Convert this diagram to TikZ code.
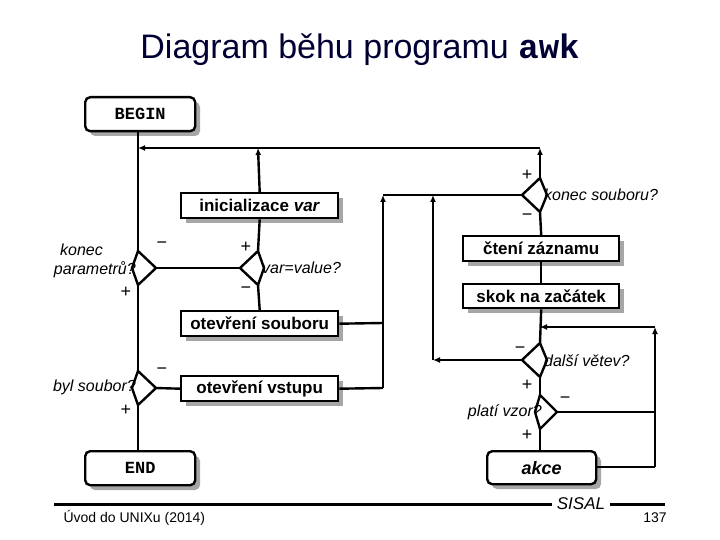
\documentclass[tikz,border=0pt]{standalone}
\usepackage{fontspec}
\setmainfont{Liberation Sans}
\setmonofont{Liberation Mono}
\usetikzlibrary{arrows.meta}
\tikzset{
 x=1pt,y=-1pt,
 ln/.style={line width=2.4pt},
 arr/.style={ln,-{Latex[length=7pt,width=6pt]}},
 shad/.style={fill=gray!70},
 lbl/.style={font=\fontsize{16}{16}\selectfont\itshape,inner sep=0pt},
 sg/.style={font=\fontsize{18}{18}\selectfont,inner sep=0pt},
}
% kite: name, x, y, left half, right half
\newcommand{\kite}[5]{%
 \coordinate (#1t) at (#2,#3-17);
 \coordinate (#1b) at (#2,#3+17);
 \coordinate (#1l) at (#2-#4,#3);
 \coordinate (#1r) at (#2+#5,#3);
 \draw[ln] (#1t) -- (#1r) -- (#1b) -- (#1l) -- cycle;}
\newcommand{\pbx}[6]{% name x1 y1 x2 y2 text
 \fill[shad] (#2+6,#3+6) rectangle (#4+6,#5+6);
 \node[draw,line width=2.4pt,fill=white,inner sep=0pt,minimum width=#4pt-#2pt,minimum height=#5pt-#3pt,anchor=north west,font=\fontsize{17}{17}\selectfont\bfseries] (#1) at (#2,#3) {#6};}
\newcommand{\rbx}[6]{%
 \fill[shad,rounded corners=5pt] (#2+6,#3+6) rectangle (#4+6,#5+6);
 \node[draw,line width=2.4pt,fill=white,rounded corners=5pt,inner sep=0pt,minimum width=#4pt-#2pt,minimum height=#5pt-#3pt,anchor=north west] (#1) at (#2,#3) {#6};}
\begin{document}
\begin{tikzpicture}
\useasboundingbox (0,0) rectangle (720,540);
\node[font=\fontsize{34}{34}\selectfont,text=black!80!blue] (title) at (360,50) {Diagram běhu programu \texttt{\bfseries awk}};
% boxes
\rbx{begin}{84}{96}{194}{130}{\fontsize{17}{17}\selectfont\ttfamily\bfseries BEGIN}
\pbx{init}{180}{192}{337}{217}{inicializace \textit{var}}
\pbx{osoub}{180}{310}{337}{335}{otevření souboru}
\pbx{ovst}{180}{375}{337}{400}{otevření vstupu}
\rbx{end}{84}{450}{194}{484}{\fontsize{17}{17}\selectfont\ttfamily\bfseries END}
\pbx{cteni}{462}{235}{618}{260}{čtení záznamu}
\pbx{skok}{462}{283}{618}{307}{skok na začátek}
\rbx{akce}{486}{450}{595}{483}{\fontsize{18}{18}\selectfont\bfseries\itshape akce}
% diamonds
\kite{kp}{138}{268}{6}{18}
\kite{vv}{258}{268}{18}{6}
\kite{bs}{138}{388}{6}{18}
\kite{ks}{540}{195}{18}{7}
\kite{dv}{540}{360}{18}{7}
\kite{pv}{540}{412}{5}{17}
% coordinates
\coordinate (topL) at (138,148);
\coordinate (topI) at (258,148);
\coordinate (topR) at (540,148);
\coordinate (m1) at (383,323);
\coordinate (m2) at (383,388);
\coordinate (m3) at (383,195);
\coordinate (n1) at (433,360);
\coordinate (n2) at (433,195);
\coordinate (r1) at (655,467);
\coordinate (r2) at (655,412);
\coordinate (r3) at (655,327);
\coordinate (r4) at (540,327);
% connectors
\draw[ln] (begin.south -| kpt) -- (kpt);
\draw[arr] (topR) -- (topL);
\draw[arr] (kst) -- (topR);
\draw[arr] (init.north) -- (topI);
\draw[ln] (vvt) -- (init.south);
\draw[ln] (kpr) -- (vvl);
\draw[ln] (vvb) -- (osoub.north);
\draw[ln] (kpb) -- (bst);
\draw[ln] (bsr) -- (ovst.west);
\draw[ln] (bsb) -- (end.north -| bsb);
\draw[ln] (osoub.east) -- (m1);
\draw[ln] (ovst.east) -- (m2);
\draw[arr] (m2) -- (m3);
\draw[ln] (m3) -- (ksl);
\draw[ln] (ksb) -- (cteni.north);
\draw[ln] (cteni.south) -- (skok.north);
\draw[ln] (skok.south) -- (dvt);
\draw[arr] (dvl) -- (n1);
\draw[arr] (n1) -- (n2);
\draw[ln] (dvb) -- (pvt);
\draw[ln] (pvb) -- (akce.north -| pvb);
\draw[ln] (akce.east |- r1) -- (r1);
\draw[ln] (pvr) -- (r2);
\draw[arr] (r1) -- (r3);
\draw[arr] (r3) -- (r4);
% labels
\node[lbl,anchor=west] (l1) at (60,250) {konec};
\node[lbl,anchor=east] (l2) at (136,270) {parametrů?};
\node[sg] (s1) at (162,245) {−};
\node[sg] (s2) at (126,292) {+};
\node[lbl,anchor=west] (l3) at (262,268) {var=value?};
\node[sg] (s3) at (246,247) {+};
\node[sg] (s4) at (246,290) {−};
\node[lbl,anchor=east] (l4) at (136,387) {byl soubor?};
\node[sg] (s5) at (162,371) {−};
\node[sg] (s6) at (126,410) {+};
\node[lbl,anchor=west] (l5) at (544,195) {konec souboru?};
\node[sg] (s7) at (527,175) {+};
\node[sg] (s8) at (527,217) {−};
\node[lbl,anchor=west] (l6) at (544,361) {další větev?};
\node[sg] (s9) at (520,350) {−};
\node[sg] (s10) at (527,385) {+};
\node[lbl,anchor=east] (l7) at (542,412) {platí vzor?};
\node[sg] (s11) at (565,400) {−};
\node[sg] (s12) at (527,435) {+};
% footer
\coordinate (f1) at (54,504);
\coordinate (f2) at (552,504);
\coordinate (f3) at (610,504);
\coordinate (f4) at (665,504);
\draw[line width=3pt] (f1) -- (f2);
\draw[line width=3pt] (f3) -- (f4);
\node[font=\fontsize{17}{17}\selectfont\itshape] (sisal) at (581,504) {SISAL};
\node[font=\fontsize{14}{14}\selectfont,anchor=west] (foot) at (60,518) {Úvod do UNIXu (2014)};
\node[font=\fontsize{14}{14}\selectfont] (pg) at (655,518) {137};
\end{tikzpicture}
\end{document}
